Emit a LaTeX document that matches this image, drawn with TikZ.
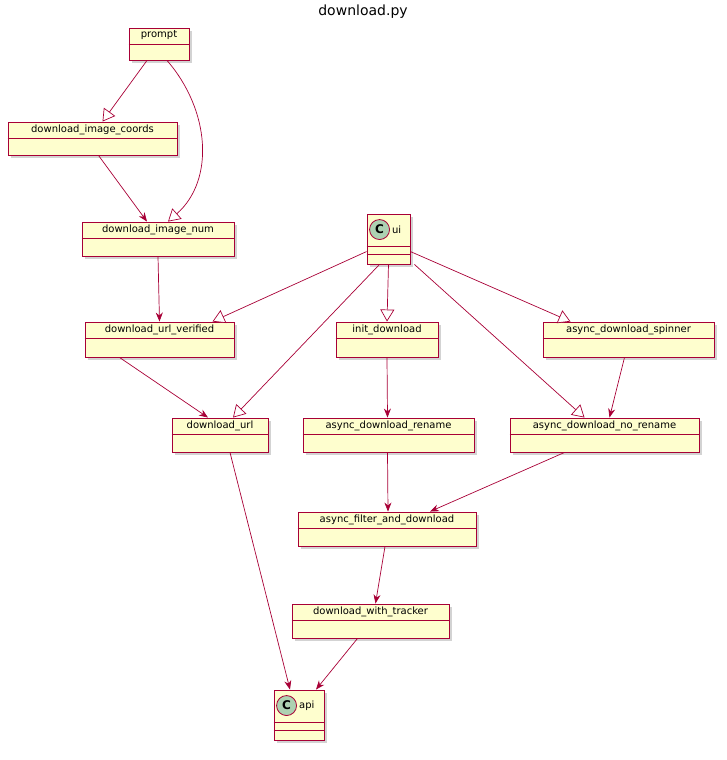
\documentclass[tikz,border=0pt]{standalone}
\usepackage{fontspec}
\setmainfont{DejaVu Sans}
\usetikzlibrary{arrows.meta,shadows}
\definecolor{bfill}{HTML}{FEFECE}
\definecolor{bline}{HTML}{A80036}
\definecolor{cfill}{HTML}{ADD1B2}
\tikzset{
 box/.style={draw=bline,fill=bfill,line width=0.9pt,inner sep=0pt,
   drop shadow={opacity=0.35,shadow xshift=3pt,shadow yshift=-3pt,fill=gray}},
 lbl/.style={anchor=north,font=\fontsize{10}{12}\selectfont,inner sep=0pt,yshift=-3pt},
 dep/.style={draw=bline,line width=0.7pt,-{Stealth[length=9pt,width=7pt,fill=bline]}},
 inh/.style={draw=bline,line width=0.7pt,-{Triangle[open,length=12pt,width=14pt,fill=white]}},
}
\newcommand\cls[6]{%
 \node[box,minimum width={(#4-#2)*1pt},minimum height={(#5-#3)*1pt}] (#1) at ({(#2+#4)/2},{-(#3+#5)/2}) {};
 \node[lbl] (#1-t) at (#1.north) {#6};
 \draw[bline,line width=0.9pt] ([yshift=-17pt]#1.north west) -- ([yshift=-17pt]#1.north east);}
\newcommand\ccls[5]{%
 \node[box,minimum width={(#4-#2)*1pt},minimum height={(#5-#3)*1pt}] (#1) at ({(#2+#4)/2},{-(#3+#5)/2}) {};
 \node[draw=bline,fill=cfill,circle,minimum size=20pt,inner sep=0pt,line width=0.8pt,font=\bfseries\fontsize{12}{12}\selectfont] (#1-c) at ([xshift=13pt,yshift=-16pt]#1.north west) {C};
 \node[anchor=west,font=\fontsize{10}{12}\selectfont,inner sep=0pt] (#1-t) at ([xshift=2pt]#1-c.east) {#1};
 \draw[bline,line width=0.9pt] ([yshift=-33pt]#1.north west) -- ([yshift=-33pt]#1.north east);
 \draw[bline,line width=0.9pt] ([yshift=-41pt]#1.north west) -- ([yshift=-41pt]#1.north east);}
\begin{document}
\begin{tikzpicture}[x=1pt,y=1pt]
\useasboundingbox (0,0) rectangle (727,-760);
\node[font=\fontsize{14}{16}\selectfont] (title) at (363,-12) {download.py};
\cls{prompt}{129}{28}{189}{60}{prompt}
\cls{coords}{8}{122}{177}{155}{download\_image\_coords}
\cls{num}{82}{222}{234}{256}{download\_image\_num}
\ccls{ui}{367}{214}{410}{264}
\cls{verified}{85}{322}{234}{357}{download\_url\_verified}
\cls{init}{336}{322}{438}{357}{init\_download}
\cls{spinner}{543}{322}{714}{357}{async\_download\_spinner}
\cls{url}{172}{418}{268}{452}{download\_url}
\cls{rename}{303}{418}{474}{452}{async\_download\_rename}
\cls{norename}{510}{418}{699}{452}{async\_download\_no\_rename}
\cls{filter}{298}{512}{476}{546}{async\_filter\_and\_download}
\cls{tracker}{292}{604}{449}{638}{download\_with\_tracker}
\ccls{api}{274}{690}{324}{740}
% edges
\draw[inh] ([xshift=-12pt]prompt.south) -- ([xshift=10pt]coords.north);
\draw[inh] ([xshift=8pt]prompt.south) .. controls (210,-110) and (215,-180) .. ([xshift=10pt]num.north);
\draw[dep] ([xshift=6pt]coords.south) -- ([xshift=-11pt]num.north);
\draw[dep] (num.south) -- (verified.north);
\draw[inh] ([yshift=-38pt]ui.north west) -- ([xshift=53pt]verified.north);
\draw[inh] ([xshift=-9pt]ui.south) -- ([xshift=13pt]url.north);
\draw[inh] (ui.south) -- (init.north);
\draw[inh] ([yshift=-38pt]ui.north east) -- ([xshift=-58pt]spinner.north);
\draw[inh] ([xshift=4pt]ui.south east) -- ([xshift=-20pt]norename.north);
\draw[dep] ([xshift=-40pt]verified.south) -- ([xshift=-12pt]url.north);
\draw[dep] (init.south) -- ([xshift=-1pt]rename.north);
\draw[dep] ([xshift=-4pt]spinner.south) -- ([xshift=5pt]norename.north);
\draw[dep] ([xshift=-1pt]rename.south) -- ([xshift=1pt]filter.north);
\draw[dep] ([xshift=-40pt]norename.south) -- ([xshift=43pt]filter.north);
\draw[dep] ([xshift=-2pt]filter.south) -- ([xshift=5pt]tracker.north);
\draw[dep] ([xshift=-13pt]tracker.south) -- ([xshift=17pt]api.north);
\draw[dep] ([xshift=10pt]url.south) -- ([xshift=-9pt]api.north);
\end{tikzpicture}
\end{document}
